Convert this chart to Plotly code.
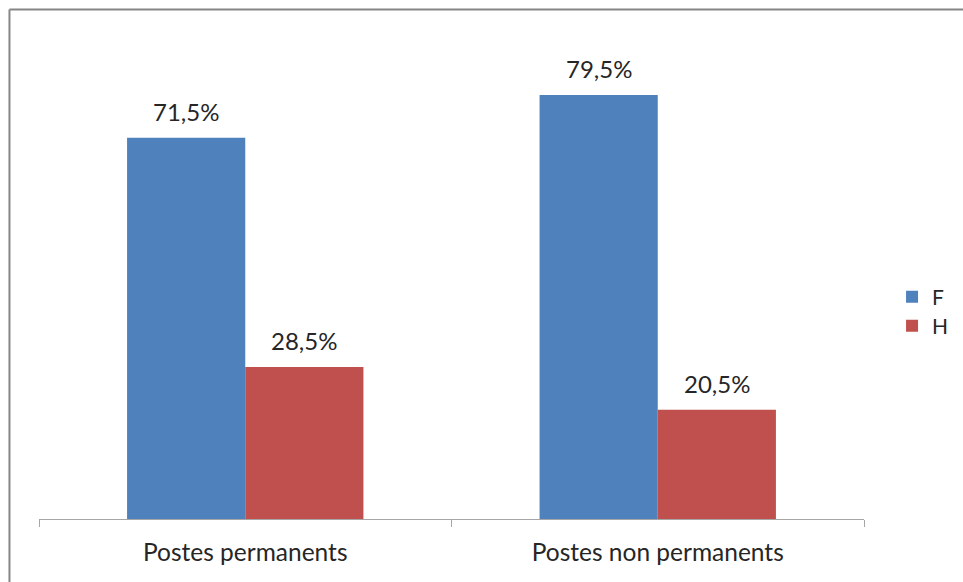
import plotly.graph_objects as go

# Répartition F / H par type de poste (en %)
categories = ["Postes permanents", "Postes non permanents"]
series_names = ["F", "H"]
values_f = [71.5, 79.5]
values_h = [28.5, 20.5]
colors = ["#4F81BD", "#C0504D"]

FONT = "Lato, 'Open Sans', sans-serif"
TEXT_COLOR = "#262626"


def fr_pct(v):
    return f"{v:.1f}".replace(".", ",") + "%"


fig = go.Figure()
legend_refs = ["legend", "legend2"]
for name, vals, col, lg in zip(series_names, [values_f, values_h], colors, legend_refs):
    fig.add_trace(go.Bar(
        name=name,
        x=categories,
        y=vals,
        marker=dict(color=col, line=dict(width=0)),
        hoverinfo="skip",
        legend=lg,
    ))

# Étiquettes de valeur au-dessus des barres
annotations = []
offsets = [-0.5, 0.5]
for off, vals in zip(offsets, [values_f, values_h]):
    for i, v in enumerate(vals):
        annotations.append(dict(
            x=i, xref="x", y=v, yref="y",
            xshift=off * 118,
            yshift=10,
            text=fr_pct(v),
            showarrow=False,
            yanchor="bottom",
            font=dict(family=FONT, size=24, color=TEXT_COLOR),
        ))

legend_style = dict(
    xanchor="left", yanchor="middle",
    font=dict(family=FONT, size=21, color=TEXT_COLOR),
    bgcolor="rgba(0,0,0,0)",
)

fig.update_layout(
    width=963,
    height=582,
    paper_bgcolor="white",
    plot_bgcolor="white",
    margin=dict(l=39, r=99, t=39, b=63, autoexpand=False),
    barmode="group",
    bargap=0.427,
    bargroupgap=0,
    showlegend=True,
    legend=dict(x=1.034, y=0.4625, **legend_style),
    legend2=dict(x=1.034, y=0.402, **legend_style),
    xaxis=dict(
        showline=True, linecolor="#A6A6A6", linewidth=1,
        ticks="outside", tickson="boundaries", ticklen=7,
        tickcolor="#A6A6A6", tickwidth=1,
        ticklabelstandoff=12,
        showgrid=False,
        tickfont=dict(family=FONT, size=24.5, color=TEXT_COLOR),
    ),
    yaxis=dict(
        range=[0, 90], visible=False, showgrid=False, zeroline=False,
    ),
    annotations=annotations,
    shapes=[
        # cadre du graphique
        dict(type="line", xref="paper", yref="paper",
             x0=-0.0358, x1=1.2, y0=1.0614, y1=1.0614,
             line=dict(color="#868686", width=2)),
        dict(type="line", xref="paper", yref="paper",
             x0=-0.0358, x1=-0.0358, y0=-0.2, y1=1.0614,
             line=dict(color="#868686", width=2)),
    ],
)

fig.write_html("out.html")
